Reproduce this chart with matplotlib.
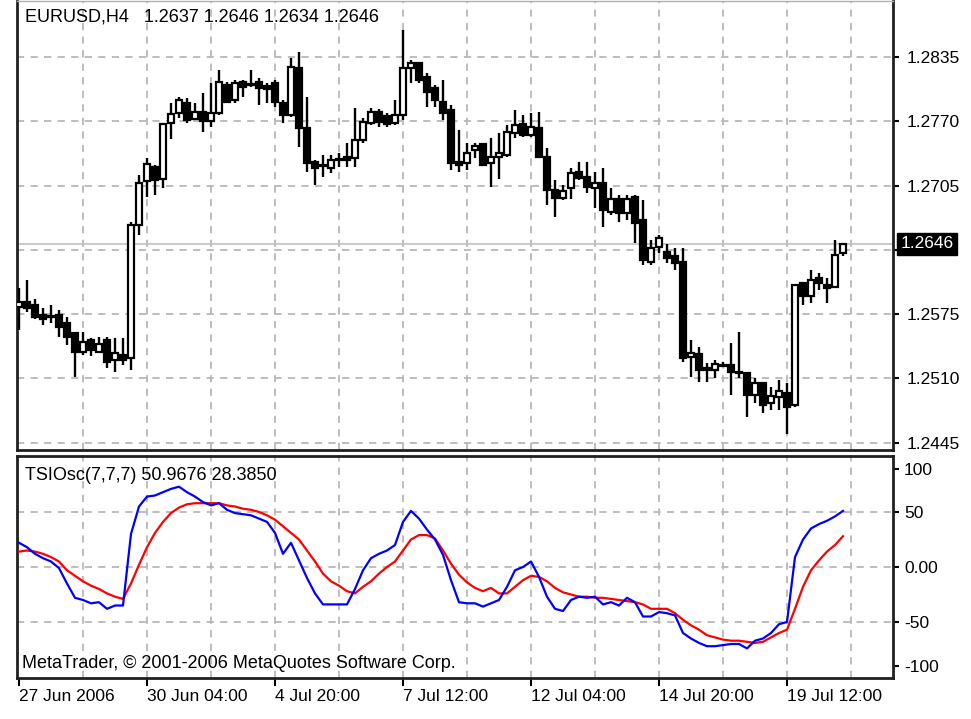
import numpy as np
import matplotlib.pyplot as plt
import matplotlib.transforms as mtransforms

plt.rcParams['font.family'] = ['Liberation Sans', 'DejaVu Sans']

# EURUSD H4 candles, one per 4 hours (weekends skipped)
opens = [1.2582, 1.2587, 1.2584, 1.2574, 1.2573, 1.2574, 1.2566, 1.2556, 1.2537, 1.2549,
         1.2537, 1.2549, 1.2529, 1.2534, 1.2531, 1.2665, 1.2710, 1.2724, 1.2712, 1.2768,
         1.2778, 1.2788, 1.2772, 1.2779, 1.2770, 1.2778, 1.2807, 1.2792, 1.2810, 1.2808,
         1.2810, 1.2806, 1.2809, 1.2788, 1.2776, 1.2824, 1.2763, 1.2729, 1.2726, 1.2723,
         1.2731, 1.2734, 1.2733, 1.2751, 1.2768, 1.2779, 1.2775, 1.2768, 1.2776, 1.2824,
         1.2829, 1.2815, 1.2804, 1.2790, 1.2781, 1.2729, 1.2728, 1.2741, 1.2747, 1.2728,
         1.2734, 1.2736, 1.2758, 1.2767, 1.2756, 1.2763, 1.2734, 1.2701, 1.2692, 1.2703,
         1.2719, 1.2714, 1.2703, 1.2708, 1.2678, 1.2691, 1.2677, 1.2693, 1.2670, 1.2628,
         1.2643, 1.2638, 1.2634, 1.2628, 1.2532, 1.2535, 1.2521, 1.2519, 1.2524, 1.2524,
         1.2517, 1.2516, 1.2493, 1.2505, 1.2485, 1.2491, 1.2495, 1.2483, 1.2607, 1.2593,
         1.2612, 1.2605, 1.2602, 1.2637]
highs = [1.2601, 1.2610, 1.2590, 1.2581, 1.2584, 1.2579, 1.2572, 1.2557, 1.2557, 1.2551,
         1.2552, 1.2552, 1.2551, 1.2551, 1.2668, 1.2716, 1.2733, 1.2726, 1.2768, 1.2788,
         1.2795, 1.2794, 1.2788, 1.2799, 1.2809, 1.2822, 1.2810, 1.2812, 1.2812, 1.2822,
         1.2814, 1.2809, 1.2812, 1.2792, 1.2834, 1.2840, 1.2795, 1.2731, 1.2736, 1.2736,
         1.2738, 1.2748, 1.2783, 1.2773, 1.2783, 1.2782, 1.2778, 1.2792, 1.2862, 1.2832,
         1.2830, 1.2819, 1.2807, 1.2812, 1.2786, 1.2761, 1.2748, 1.2748, 1.2748, 1.2753,
         1.2758, 1.2766, 1.2781, 1.2776, 1.2778, 1.2779, 1.2743, 1.2711, 1.2706, 1.2723,
         1.2729, 1.2729, 1.2719, 1.2723, 1.2703, 1.2695, 1.2695, 1.2695, 1.2690, 1.2650,
         1.2655, 1.2646, 1.2642, 1.2642, 1.2549, 1.2542, 1.2526, 1.2529, 1.2527, 1.2546,
         1.2557, 1.2517, 1.2510, 1.2506, 1.2501, 1.2508, 1.2505, 1.2606, 1.2608, 1.2620,
         1.2617, 1.2612, 1.2650, 1.2646]
lows = [1.2559, 1.2577, 1.2570, 1.2564, 1.2566, 1.2552, 1.2544, 1.2511, 1.2534, 1.2533,
        1.2536, 1.2521, 1.2517, 1.2524, 1.2519, 1.2655, 1.2693, 1.2695, 1.2703, 1.2752,
        1.2773, 1.2768, 1.2771, 1.2759, 1.2764, 1.2776, 1.2788, 1.2788, 1.2795, 1.2805,
        1.2786, 1.2788, 1.2784, 1.2768, 1.2774, 1.2744, 1.2719, 1.2706, 1.2714, 1.2718,
        1.2724, 1.2724, 1.2724, 1.2748, 1.2766, 1.2764, 1.2764, 1.2766, 1.2771, 1.2809,
        1.2809, 1.2784, 1.2784, 1.2771, 1.2721, 1.2719, 1.2721, 1.2733, 1.2725, 1.2704,
        1.2712, 1.2734, 1.2753, 1.2754, 1.2754, 1.2733, 1.2685, 1.2673, 1.2690, 1.2691,
        1.2711, 1.2698, 1.2682, 1.2663, 1.2675, 1.2668, 1.2670, 1.2647, 1.2625, 1.2625,
        1.2637, 1.2627, 1.2620, 1.2527, 1.2511, 1.2506, 1.2506, 1.2510, 1.2522, 1.2493,
        1.2510, 1.2471, 1.2485, 1.2475, 1.2478, 1.2478, 1.2454, 1.2481, 1.2584, 1.2586,
        1.2599, 1.2586, 1.2601, 1.2634]
closes = [1.2587, 1.2581, 1.2572, 1.2570, 1.2572, 1.2562, 1.2552, 1.2537, 1.2547, 1.2539,
          1.2545, 1.2527, 1.2536, 1.2529, 1.2665, 1.2708, 1.2727, 1.2711, 1.2767, 1.2777,
          1.2792, 1.2771, 1.2779, 1.2770, 1.2778, 1.2810, 1.2790, 1.2809, 1.2805, 1.2807,
          1.2804, 1.2803, 1.2790, 1.2776, 1.2825, 1.2763, 1.2728, 1.2723, 1.2725, 1.2731,
          1.2732, 1.2731, 1.2751, 1.2769, 1.2779, 1.2769, 1.2767, 1.2776, 1.2824, 1.2829,
          1.2812, 1.2800, 1.2792, 1.2778, 1.2728, 1.2726, 1.2738, 1.2745, 1.2726, 1.2734,
          1.2738, 1.2759, 1.2766, 1.2756, 1.2764, 1.2734, 1.2701, 1.2692, 1.2700, 1.2718,
          1.2713, 1.2704, 1.2708, 1.2680, 1.2691, 1.2677, 1.2691, 1.2667, 1.2630, 1.2642,
          1.2652, 1.2632, 1.2627, 1.2531, 1.2536, 1.2519, 1.2519, 1.2525, 1.2523, 1.2517,
          1.2516, 1.2493, 1.2505, 1.2483, 1.2492, 1.2497, 1.2481, 1.2604, 1.2593, 1.2610,
          1.2607, 1.2601, 1.2635, 1.2646]

# TSI oscillator (blue) and its signal line (red)
tsi = [22, 18, 12, 8, 5, -1, -15, -28, -30, -33, -32, -38, -35, -35,
       30, 55, 64, 65, 68, 71, 73, 68, 64, 59, 56, 58, 52, 49,
       48, 47, 44, 41, 31, 12, 22, 6, -10, -24, -34, -34, -34, -34,
       -20, -3, 8, 12, 15, 20, 41, 51, 44, 34, 25, 11, -12, -32,
       -33, -33, -36, -33, -30, -18, -3, 0, 5, -9, -27, -38, -40, -30,
       -27, -28, -27, -34, -32, -35, -28, -32, -45, -45, -41, -42, -44, -60,
       -65, -69, -72, -72, -71, -70, -70, -74, -67, -65, -60, -52, -50, 9,
       25, 35, 39, 42, 46, 51]
signal = [14, 15, 14, 12, 9, 5, -3, -8, -13, -17, -20, -24, -27, -29,
          -15, 2, 18, 31, 41, 49, 54, 57, 58, 58, 58, 58, 56, 55,
          53, 52, 50, 47, 43, 37, 31, 25, 15, 5, -6, -13, -17, -22,
          -24, -18, -13, -6, 0, 5, 15, 25, 29, 29, 26, 15, 3, -7,
          -14, -19, -22, -19, -24, -24, -18, -12, -8, -9, -13, -19, -23, -25,
          -27, -27, -28, -28, -29, -30, -31, -32, -34, -38, -38, -38, -42, -48,
          -53, -57, -62, -64, -66, -67, -67, -68, -69, -68, -64, -60, -57, -38,
          -18, -3, 6, 14, 20, 28]

price_ticks = [1.2835, 1.2770, 1.2705, 1.2640, 1.2575, 1.2510, 1.2445]
last_price = 1.2646
date_idx = [0, 16, 32, 48, 64, 80, 96]
date_labels = ['27 Jun 2006', '30 Jun 04:00', '4 Jul 20:00', '7 Jul 12:00',
               '12 Jul 04:00', '14 Jul 20:00', '19 Jul 12:00']

W, H = 971, 719
FS = 12.5
grid_col = '#b8b8b8'
dash = (0, (4, 3.5))

fig = plt.figure(figsize=(W / 100, H / 100), dpi=100)
ax = fig.add_axes([17 / W, 1 - 450 / H, 876 / W, 449 / H])
ax2 = fig.add_axes([17 / W, 1 - 678 / H, 876 / W, 222 / H])

o = np.array(opens); h = np.array(highs); l = np.array(lows); c = np.array(closes)
x = np.arange(len(o))
up = c >= o

# grid
for a in (ax, ax2):
    for gx in range(8, 110, 8):
        a.axvline(gx, color=grid_col, ls=dash, lw=1.3, zorder=1)
for p in price_ticks:
    ax.axhline(p, color=grid_col, ls=dash, lw=1.3, zorder=1)
for v in [50, 0, -50]:
    ax2.axhline(v, color=grid_col, ls=dash, lw=1.3, zorder=1)

ax.axhline(last_price, color='#c0c0c0', lw=1.2, zorder=1)

# candles
ax.vlines(x, l, h, color='black', lw=1.7, zorder=3)
bot = np.minimum(o, c)
hgt = np.abs(c - o)
ax.bar(x[up], hgt[up], bottom=bot[up], width=0.68, color='white',
       edgecolor='black', lw=1.6, zorder=4)
ax.bar(x[~up], hgt[~up], bottom=bot[~up], width=0.68, color='black',
       edgecolor='black', lw=1.6, zorder=4)

ax.set_xlim(-0.25, 109.25)
ax.set_ylim(1.24377, 1.28916)
ax.set_xticks([])
ax.yaxis.tick_right()
ax.set_yticks(price_ticks)
ax.set_yticklabels(['%.4f' % p if p != 1.2640 else '' for p in price_ticks])
ax.tick_params(axis='y', direction='out', length=4, width=1.5, pad=6, labelsize=FS)

blend = mtransforms.blended_transform_factory(ax.transAxes, ax.transData)
ax.text(1.009, last_price, '%.4f' % last_price, transform=blend, color='white',
        fontsize=FS, va='center', ha='left',
        bbox=dict(boxstyle='square,pad=0.2', fc='black', ec='black'))

ax.text(8 / 876, 1 - 16 / 449, 'EURUSD,H4   1.2637 1.2646 1.2634 1.2646',
        transform=ax.transAxes, fontsize=13, va='center', ha='left')

# oscillator
ax2.plot(x, signal, color='#ff0000', lw=1.6, zorder=3)
ax2.plot(x, tsi, color='#0000ff', lw=1.6, zorder=4)
ax2.set_xlim(-0.25, 109.25)
ax2.set_ylim(-100.9, 100.9)
ax2.yaxis.tick_right()
ax2.set_yticks([89, 50, 0, -50, -90])
ax2.set_yticklabels(['100', '50', '0.00', '-50', '-100'])
ax2.tick_params(axis='y', direction='out', length=4, width=1.5, pad=4, labelsize=FS)
ax2.set_xticks(date_idx)
ax2.set_xticklabels(date_labels)
for t in ax2.get_xticklabels():
    t.set_horizontalalignment('left')
ax2.tick_params(axis='x', direction='out', length=6, width=1.5, pad=2, labelsize=FS)

ax2.text(8 / 876, 1 - 19 / 222, 'TSIOsc(7,7,7) 50.9676 28.3850',
         transform=ax2.transAxes, fontsize=13, va='center', ha='left')
ax2.text(5 / 876, 15 / 222, 'MetaTrader, © 2001-2006 MetaQuotes Software Corp.',
         transform=ax2.transAxes, fontsize=13, va='center', ha='left')

for a in (ax, ax2):
    for s in a.spines.values():
        s.set_linewidth(2)
        s.set_color('#202020')
ax.spines['top'].set_color('#b0b0b0')
ax.spines['top'].set_linewidth(1)

fig.savefig('out.png', dpi=100)
